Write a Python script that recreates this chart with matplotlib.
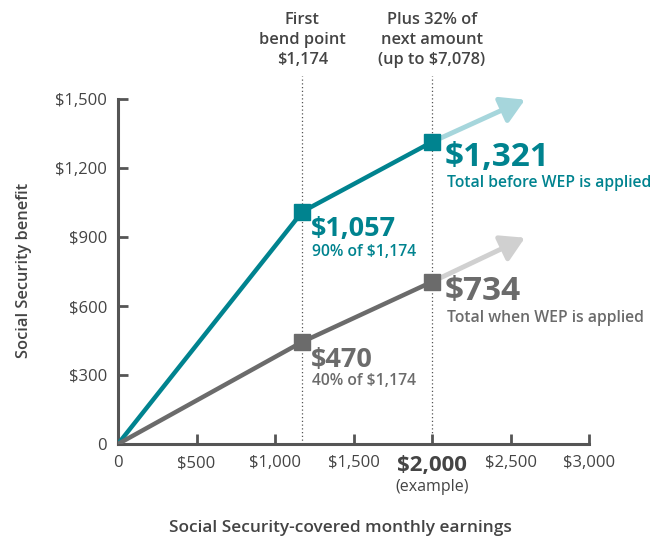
import matplotlib
matplotlib.use("Agg")
import matplotlib.pyplot as plt

# ---- data (positions as drawn in the reference; labels as printed) ----
earnings = [0, 1174, 2000]
before_wep = [0, 1010, 1313]
with_wep = [0, 444, 705]
before_labels = ["$1,057", "$1,321"]
with_labels = ["$470", "$734"]
arrow_end_before = (2592, 1497)
arrow_end_with = (2592, 897)
bend_points = [1174, 2000]
xticks = [0, 500, 1000, 1500, 2000, 2500, 3000]
xtick_labels = ["0", "$500", "$1,000", "$1,500", "", "$2,500", "$3,000"]
yticks = [0, 300, 600, 900, 1200, 1500]
ytick_labels = ["0", "$300", "$600", "$900", "$1,200", "$1,500"]

TEAL = "#00838f"
TEAL_L = "#a6d6dc"
GREY = "#6b6b6b"
GREY_L = "#d0d0d0"
AX = "#555555"
TXT = "#444444"

plt.rcParams['font.family'] = ['Open Sans', 'DejaVu Sans']

fig = plt.figure(figsize=(6.59, 5.38), dpi=100)
ax = fig.add_axes([118/659, (538-444)/538, 471/659, 368/538])
ax.set_xlim(0, 3000)
ax.set_ylim(0, 1600)

# dotted guide lines
for bp in bend_points:
    ax.plot([bp, bp], [0, 1600], color="#555555", lw=0.9, ls=(0, (1, 2)), zorder=1)

# arrows (continuation)
for start, end, col in [((earnings[-1], before_wep[-1]), arrow_end_before, TEAL_L),
                        ((earnings[-1], with_wep[-1]), arrow_end_with, GREY_L)]:
    ax.annotate("", xy=end, xytext=start,
                arrowprops=dict(arrowstyle="-|>,head_length=0.65,head_width=0.38",
                                color=col, lw=3.5, shrinkA=0, shrinkB=0,
                                mutation_scale=22), zorder=2)

ax.plot(earnings, before_wep, color=TEAL, lw=3.2, zorder=3, solid_capstyle='butt')
ax.plot(earnings, with_wep, color=GREY, lw=3.2, zorder=3, solid_capstyle='butt')
ax.plot(earnings[1:], before_wep[1:], ls='none', marker='s', ms=11, color=TEAL, zorder=4)
ax.plot(earnings[1:], with_wep[1:], ls='none', marker='s', ms=11, color=GREY, zorder=4)

# spines
for s in ['top', 'right']:
    ax.spines[s].set_visible(False)
for s in ['left', 'bottom']:
    ax.spines[s].set_color(AX)
    ax.spines[s].set_linewidth(2.2)
ax.spines['left'].set_bounds(0, 1500)
ax.set_xticks(xticks)
ax.set_xticklabels(xtick_labels)
ax.set_yticks(yticks)
ax.set_yticklabels(ytick_labels)
ax.tick_params(direction='in', length=7, width=2, color=AX, labelcolor=TXT,
               labelsize=12)
ax.tick_params(axis='x', pad=8)
ax.tick_params(axis='y', pad=8)

# bold $2,000 label
ax.annotate("$2,000", xy=(2000, 0), xycoords='data', xytext=(0, -21),
            textcoords='offset pixels', ha='center', va='center',
            fontsize=16, fontweight='bold', color=TXT)
ax.annotate("(example)", xy=(2000, 0), xytext=(0, -43),
            textcoords='offset pixels', ha='center', va='center',
            fontsize=11.5, color=TXT)

fig.text(24/659, 1-270/538, "Social Security benefit", rotation=90,
         ha='center', va='center', fontsize=11.8, fontweight='semibold', color=TXT)
fig.text(340/659, 1-528/538, "Social Security-covered monthly earnings",
         ha='center', va='center', fontsize=12.4, fontweight='semibold', color=TXT)

# top annotations
ax.annotate("First\nbend point\n$1,174", xy=(bend_points[0], 1600),
            xytext=(0, 36), textcoords='offset pixels', ha='center', va='center',
            fontsize=11.8, fontweight='semibold', color=TXT, linespacing=1.32)
ax.annotate("Plus 32% of\nnext amount\n(up to $7,078)", xy=(bend_points[1], 1600),
            xytext=(0, 36), textcoords='offset pixels', ha='center', va='center',
            fontsize=11.8, fontweight='semibold', color=TXT, linespacing=1.32)

# value labels
def label(x, y, big, small, col, bigsize, dbig, dsmall):
    ax.annotate(big, xy=(x, y), xytext=dbig, textcoords='offset pixels',
                ha='left', va='center', fontsize=bigsize, fontweight='bold', color=col)
    ax.annotate(small, xy=(x, y), xytext=dsmall, textcoords='offset pixels',
                ha='left', va='center', fontsize=11.3, fontweight='semibold', color=col)

label(earnings[1], before_wep[1], before_labels[0], "90% of $1,174", TEAL, 19.5, (9, -17), (10, -40))
label(earnings[1], with_wep[1], with_labels[0], "40% of $1,174", GREY, 19.5, (9, -18), (10, -39))
label(earnings[2], before_wep[2], before_labels[1], "Total before WEP is applied", TEAL, 24, (13, -15), (15, -41))
label(earnings[2], with_wep[2], with_labels[1], "Total when WEP is applied", GREY, 24, (13, -10), (15, -36))

fig.savefig("out.png", dpi=100)
